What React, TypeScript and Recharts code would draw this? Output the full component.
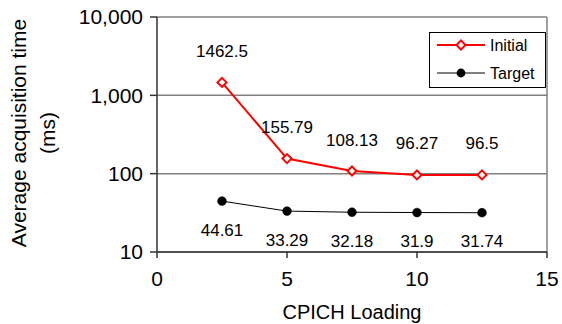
import React from 'react';
import { LineChart, Line, XAxis, YAxis, CartesianGrid, Legend, LabelList, ReferenceLine } from 'recharts';

const xValues = [2.5, 5, 7.5, 10, 12.5];
const initialValues = [1462.5, 155.79, 108.13, 96.27, 96.5];
const targetValues = [44.61, 33.29, 32.18, 31.9, 31.74];
const xTicks = [0, 5, 10, 15];
const yTicks = [10, 100, 1000, 10000];
const seriesNames = ['Initial', 'Target'];

const data = xValues.map((x, i) => ({ x, initial: initialValues[i], target: targetValues[i] }));

const FONT = '"Liberation Sans", Arial, sans-serif';

const Diamond = (props: any) => {
  const { cx, cy } = props;
  if (cx == null || cy == null) return null;
  const s = 4.5;
  return (
    <polygon
      points={`${cx},${cy - s} ${cx + s},${cy} ${cx},${cy + s} ${cx - s},${cy}`}
      fill="#ffffff"
      stroke="#ff0000"
      strokeWidth={2}
    />
  );
};

const Dot = (props: any) => {
  const { cx, cy } = props;
  if (cx == null || cy == null) return null;
  return <circle cx={cx} cy={cy} r={4.4} fill="#000000" stroke="#000000" strokeWidth={0.5} />;
};

const makeLabel = (offset: number) => (props: any) => {
  const { x, y, value } = props;
  if (x == null || y == null) return null;
  return (
    <text
      x={x}
      y={y + offset}
      textAnchor="middle"
      dominantBaseline="central"
      fontFamily={FONT}
      fontSize={17}
      fill="#000000"
    >
      {value}
    </text>
  );
};

const YTitle = () => (
  <g>
    <text
      x={26}
      y={133}
      transform="rotate(-90 26 133)"
      textAnchor="middle"
      fontFamily={FONT}
      fontSize={21}
      fill="#000000"
    >
      Average acquisition time
    </text>
    <text
      x={55}
      y={133}
      transform="rotate(-90 55 133)"
      textAnchor="middle"
      fontFamily={FONT}
      fontSize={21}
      fill="#000000"
    >
      (ms)
    </text>
  </g>
);

const XTitle = (props: any) => {
  const vb = props.viewBox || {};
  const cx = (vb.x || 0) + (vb.width || 0) / 2;
  return (
    <text x={cx} y={312} textAnchor="middle" dominantBaseline="central" fontFamily={FONT} fontSize={20} fill="#000000">
      CPICH Loading
    </text>
  );
};

const LegendBox = () => (
  <div
    style={{
      position: 'relative',
      width: 117,
      height: 56,
      boxSizing: 'border-box',
      border: '1px solid #000000',
      background: '#ffffff',
      fontFamily: FONT,
      fontSize: 16,
      color: '#000000',
    }}
  >
    <svg width={117} height={56} style={{ position: 'absolute', left: -1, top: -1 }}>
      <line x1={8} y1={13} x2={56} y2={13} stroke="#ff0000" strokeWidth={2} />
      <polygon points="32,8.5 36.5,13 32,17.5 27.5,13" fill="#ffffff" stroke="#ff0000" strokeWidth={2} />
      <line x1={8} y1={41} x2={56} y2={41} stroke="#000000" strokeWidth={1} />
      <circle cx={32} cy={41} r={4.4} fill="#000000" />
      <text x={61} y={13} dominantBaseline="central" fontFamily={FONT} fontSize={16} fill="#000000">
        {seriesNames[0]}
      </text>
      <text x={61} y={41} dominantBaseline="central" fontFamily={FONT} fontSize={16} fill="#000000">
        {seriesNames[1]}
      </text>
    </svg>
  </div>
);

export default function App() {
  return (
    <div style={{ position: 'absolute', left: 0, top: 0, width: 562, height: 324, background: '#ffffff' }}>
      <LineChart width={562} height={324} data={data} margin={{ top: 17, right: 15, left: 0, bottom: 0 }}>
        <CartesianGrid vertical={false} stroke="#808080" strokeWidth={1.5} />
        <ReferenceLine x={15} stroke="#808080" strokeWidth={1.5} />
        <XAxis
          dataKey="x"
          type="number"
          domain={[0, 15]}
          ticks={xTicks}
          axisLine={{ stroke: '#333333', strokeWidth: 1.5 }}
          tickLine={{ stroke: '#333333', strokeWidth: 1.5 }}
          tickSize={6}
          tickMargin={13}
          tick={{ fontFamily: FONT, fontSize: 21, fill: '#000000' }}
          label={<XTitle />}
          height={72}
        />
        <YAxis
          scale="log"
          domain={[10, 10000]}
          ticks={yTicks}
          allowDataOverflow
          width={157}
          axisLine={{ stroke: '#333333', strokeWidth: 1.5 }}
          tickLine={{ stroke: '#333333', strokeWidth: 1.5 }}
          tickSize={7}
          tickMargin={7}
          tick={{ fontFamily: FONT, fontSize: 21, fill: '#000000' }}
          tickFormatter={(v: number) => v.toLocaleString('en-US')}
          label={<YTitle />}
        />
        <Legend
          layout="vertical"
          align="center"
          verticalAlign="middle"
          content={<LegendBox />}
          wrapperStyle={{ position: 'absolute', left: 429, top: 32, width: 117, height: 56 }}
        />
        <Line
          type="linear"
          dataKey="initial"
          name={seriesNames[0]}
          stroke="#ff0000"
          strokeWidth={2}
          dot={<Diamond />}
          activeDot={false}
          isAnimationActive={false}
        >
          <LabelList dataKey="initial" content={makeLabel(-31)} />
        </Line>
        <Line
          type="linear"
          dataKey="target"
          name={seriesNames[1]}
          stroke="#000000"
          strokeWidth={1}
          dot={<Dot />}
          activeDot={false}
          isAnimationActive={false}
        >
          <LabelList dataKey="target" content={makeLabel(29)} />
        </Line>
      </LineChart>
    </div>
  );
}
